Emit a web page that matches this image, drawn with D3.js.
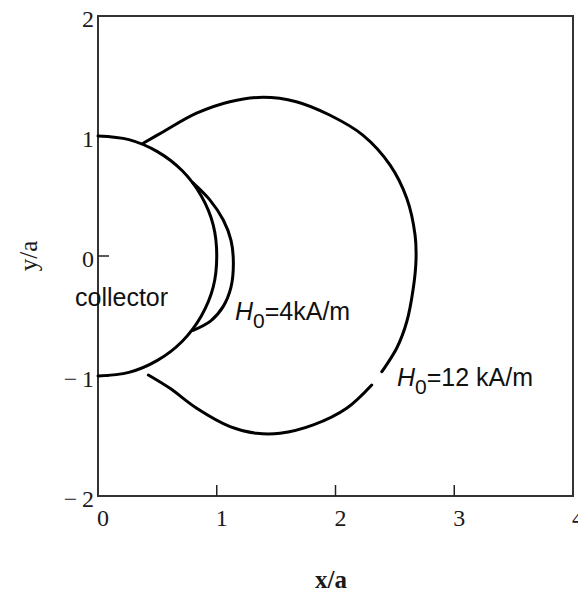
<!DOCTYPE html>
<html>
<head>
<meta charset="utf-8">
<script src="https://cdn.jsdelivr.net/npm/d3@7"></script>
<style>
  body { margin: 0; background: #fff; }
  svg { display: block; }
</style>
</head>
<body>
<div id="chart"></div>
<script>
// collector surface (unit half circle)
var collector = [[0, 1], [0.26, 0.97], [0.5, 0.87], [0.71, 0.71], [0.87, 0.5], [0.97, 0.26], [1, 0],
                 [0.97, -0.26], [0.87, -0.5], [0.71, -0.71], [0.5, -0.87], [0.26, -0.97], [0, -1]];

// capture boundary for H0 = 4 kA/m
var h4 = [[0.80, 0.61], [0.94, 0.47], [1.055, 0.30], [1.12, 0.13], [1.14, -0.06],
          [1.12, -0.26], [1.055, -0.42], [0.95, -0.54], [0.80, -0.62]];

// capture boundary for H0 = 12 kA/m, drawn in two pieces (gap near x=2.35)
var h12Upper = [[0.38, 0.94], [0.55, 1.036], [0.83, 1.19], [1.11, 1.286], [1.39, 1.323],
                [1.67, 1.286], [1.95, 1.175], [2.23, 1.008], [2.46, 0.758], [2.60, 0.481],
                [2.67, 0.175], [2.678, -0.033], [2.655, -0.269], [2.60, -0.548], [2.515, -0.769],
                [2.39, -0.964]];
var h12Lower = [[2.305, -1.075], [2.094, -1.269], [1.813, -1.408], [1.533, -1.478], [1.336, -1.478],
                [1.112, -1.422], [0.831, -1.269], [0.606, -1.103], [0.424, -0.992]];

var xTicks = [0, 1, 2, 3, 4];
var yTicks = [2, 1, 0, -1, -2];

var svg = d3.select("#chart").append("svg")
            .attr("width", 578)
            .attr("height", 593);

var x = d3.scaleLinear().domain([0, 4]).range([98, 573]);
var y = d3.scaleLinear().domain([-2, 2]).range([496, 16]);

var line = d3.line()
             .x(d => x(d[0]))
             .y(d => y(d[1]))
             .curve(d3.curveCatmullRom);

// frame
svg.append("rect")
   .attr("x", x(0))
   .attr("y", y(2))
   .attr("width", x(4) - x(0))
   .attr("height", y(-2) - y(2))
   .attr("fill", "none")
   .attr("stroke", "#333")
   .attr("stroke-width", 2);

// inner ticks
svg.selectAll(".xtick")
   .data(xTicks.slice(1, -1))
   .enter().append("line")
   .attr("x1", d => x(d)).attr("x2", d => x(d))
   .attr("y1", y(-2)).attr("y2", y(-2) - 11)
   .attr("stroke", "#222").attr("stroke-width", 1.5);

svg.selectAll(".ytick")
   .data(yTicks.slice(1, -1))
   .enter().append("line")
   .attr("x1", x(0)).attr("x2", x(0) + 11)
   .attr("y1", d => y(d)).attr("y2", d => y(d))
   .attr("stroke", "#222").attr("stroke-width", 1.5);

// tick labels
function fmt(d) { return d < 0 ? "\u2212\u2009" + (-d) : String(d); }

svg.selectAll(".xlab")
   .data(xTicks)
   .enter().append("text")
   .attr("x", d => x(d) - 1)
   .attr("y", y(-2) + 30)
   .attr("font-family", "Liberation Serif, serif")
   .attr("font-size", 24)
   .attr("fill", "#1a1a1a")
   .text(d => d);

svg.selectAll(".ylab")
   .data(yTicks)
   .enter().append("text")
   .attr("x", x(0) - 4)
   .attr("y", d => y(d) + 11)
   .attr("text-anchor", "end")
   .attr("font-family", "Liberation Serif, serif")
   .attr("font-size", 24)
   .attr("fill", "#1a1a1a")
   .text(fmt);

// axis titles
svg.append("text")
   .attr("x", 331)
   .attr("y", 588)
   .attr("text-anchor", "middle")
   .attr("font-family", "Liberation Serif, serif")
   .attr("font-size", 25)
   .attr("font-weight", "bold")
   .attr("fill", "#1a1a1a")
   .text("x/a");

svg.append("text")
   .attr("transform", "translate(37,256) rotate(-90)")
   .attr("text-anchor", "middle")
   .attr("font-family", "Liberation Serif, serif")
   .attr("font-size", 25)
   .attr("fill", "#1a1a1a")
   .text("y/a");

// curves
[collector, h4, h12Upper, h12Lower].forEach(function(pts) {
    svg.append("path")
       .datum(pts)
       .attr("fill", "none")
       .attr("stroke", "#000")
       .attr("stroke-width", 3)
       .attr("stroke-linecap", "round")
       .attr("d", line);
});

// annotations
svg.append("text")
   .attr("x", 75)
   .attr("y", 306)
   .attr("font-family", "Liberation Sans, Arial, sans-serif")
   .attr("font-size", 25)
   .attr("fill", "#111")
   .text("collector");

function fieldLabel(px, py, rest) {
    var t = svg.append("text")
               .attr("x", px)
               .attr("y", py)
               .attr("font-family", "Liberation Sans, Arial, sans-serif")
               .attr("font-size", 25)
               .attr("fill", "#111");
    t.append("tspan").attr("font-style", "italic").text("H");
    t.append("tspan").attr("font-size", 21).attr("dy", 8).text("0");
    t.append("tspan").attr("dy", -8).text(rest);
}

fieldLabel(235, 320, "=4kA/m");
fieldLabel(397, 386, "=12 kA/m");
</script>
</body>
</html>
